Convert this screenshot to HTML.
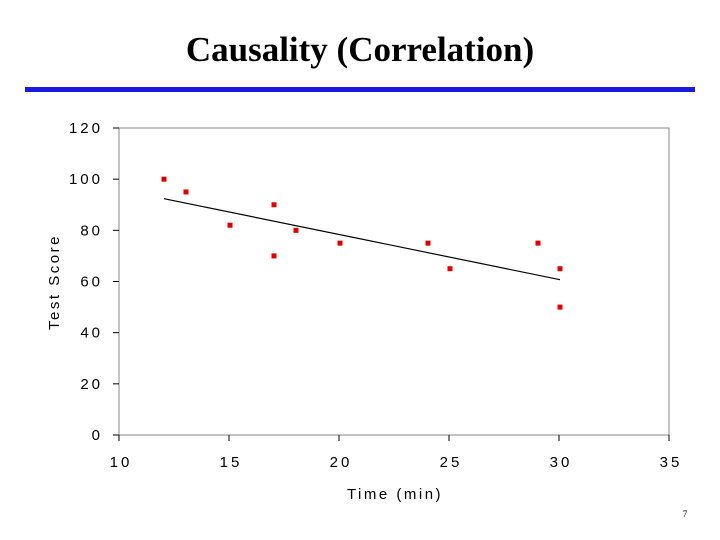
<!DOCTYPE html>
<html><head><meta charset="utf-8"><style>
body{margin:0;background:#fff;}
svg{display:block;}
</style></head><body>
<svg width="720" height="540" xmlns="http://www.w3.org/2000/svg">
<text x="360" y="61" text-anchor="middle" font-family="Liberation Serif, serif" font-weight="bold" font-size="35">Causality (Correlation)</text>
<rect x="25" y="87" width="670" height="5" fill="#1a1adb"/>
<rect x="119" y="128" width="550" height="307" fill="none" stroke="#888" stroke-width="1"/>
<g id="ticks"></g>
<g id="marks"></g>
<text transform="translate(59,282) rotate(-90)" text-anchor="middle" font-family="Liberation Sans, sans-serif" font-size="15" letter-spacing="2.5">Test Score</text>
<text x="395" y="499" text-anchor="middle" font-family="Liberation Sans, sans-serif" font-size="15" letter-spacing="2.5">Time (min)</text>
<text x="685" y="517" text-anchor="middle" font-family="Liberation Serif, serif" font-size="9">7</text>
</svg>
<script>
const xValues=[12,13,15,17,17,18,20,24,25,29,30,30];
const yValues=[100,95,82,90,70,80,75,75,65,75,65,50];
const xTicks=[10,15,20,25,30,35];
const yTicks=[0,20,40,60,80,100,120];
const NS="http://www.w3.org/2000/svg";
const sx=v=>119+(v-10)*550/25;
const sy=v=>435-v*307/120;
const tg=document.getElementById('ticks'),mg=document.getElementById('marks');
function mk(tag,attrs,parent){const e=document.createElementNS(NS,tag);for(const k in attrs)e.setAttribute(k,attrs[k]);parent.appendChild(e);return e;}
yTicks.forEach(v=>{
 const l=mk('line',{x1:113,x2:119,y1:sy(v),y2:sy(v),stroke:'#000'},tg);
 
 
 const t=mk('text',{x:103,y:sy(v)+5,'text-anchor':'end','font-family':'Liberation Sans, sans-serif','font-size':15,'letter-spacing':3},tg);
 t.textContent=String(v);
 
 
});
xTicks.forEach(v=>{
 const l=mk('line',{x1:sx(v),x2:sx(v),y1:435,y2:441,stroke:'#000'},tg);
 
 
 const t=mk('text',{x:sx(v)+2,y:467,'text-anchor':'middle','font-family':'Liberation Sans, sans-serif','font-size':15,'letter-spacing':3},tg);
 t.textContent=String(v);
 
 
});
const n=xValues.length;
const mx=xValues.reduce((a,b)=>a+b,0)/n,my=yValues.reduce((a,b)=>a+b,0)/n;
let sxy=0,sxx=0;for(let i=0;i<n;i++){sxy+=(xValues[i]-mx)*(yValues[i]-my);sxx+=(xValues[i]-mx)**2;}
const b=sxy/sxx,a=my-b*mx;
const x0=Math.min(...xValues),x1=Math.max(...xValues);
const tl=mk('line',{x1:sx(x0)+1,y1:sy(a+b*x0),x2:sx(x1)+1,y2:sy(a+b*x1),stroke:'#000','stroke-width':1.2},mg);


for(let i=0;i<n;i++){
 const r=mk('rect',{x:sx(xValues[i])-1.5,y:sy(yValues[i])-2.5,width:5,height:5,fill:'#e00000'},mg);
 
 
}
</script>
</body></html>
